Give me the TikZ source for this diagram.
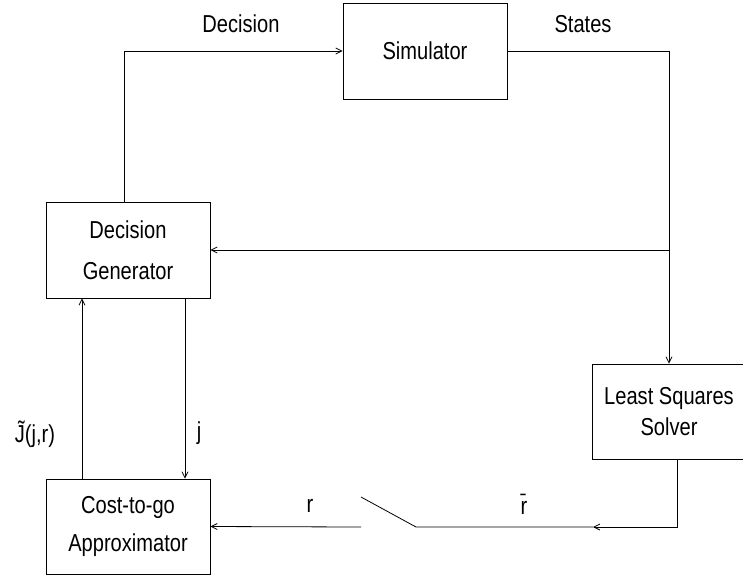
\documentclass[tikz,border=0pt]{standalone}
\usepackage{fontspec}
\setmainfont[FakeStretch=0.82]{Liberation Sans}
\usetikzlibrary{arrows.meta,calc}

\begin{document}
\begin{tikzpicture}[x=1pt,y=-1pt,line width=0.8pt,
  >={Straight Barb[length=6pt,width=6pt]},
  blk/.style={draw,inner sep=0pt,minimum width=164pt,minimum height=96pt,align=center},
  lbl/.style={inner sep=0pt,font=\fontsize{24.5}{28}\selectfont}]
\useasboundingbox (0,0) rectangle (743,582);
% boxes
\node[blk,font=\fontsize{24.5}{28}\selectfont] (sim) at (425,51) {Simulator};
\node[blk,font=\fontsize{24.5}{41}\selectfont] (dg) at (128,250) {Decision\\Generator};
\node[blk,minimum height=95pt,font=\fontsize{24.5}{38}\selectfont] (cost) at (128,526.5) {Cost-to-go\\Approximator};
\node[blk,minimum width=154pt,minimum height=95pt,font=\fontsize{24.5}{31}\selectfont] (lss) at (669,411.5) {Least Squares\\Solver};
% labels
\node[lbl] (ldec) at (241,24) {Decision};
\node[lbl] (lsta) at (583,24) {States};
\node[lbl] (lj) at (199,433) {j};
\node[lbl] (lJ) at (35,434) {\~{J}(j,r)};
\node[lbl] (lr) at (310,506) {r};
\node[lbl] (lrb) at (524,504) {\={r}};
% connectors
\draw[->] ([xshift=-4pt]dg.north) |- (sim.west);
\draw[->] (sim.east) -| (lss.north);
\coordinate (br) at (lss.north |- dg.east);
\draw[->] (br) -- (dg.east);
\draw[->] ([xshift=57pt]dg.south) -- ([xshift=57pt]cost.north);
\draw[->] ([xshift=-46pt]cost.north) -- ([xshift=-46pt]dg.south);
% switch
\coordinate (tipR) at (593,527);
\coordinate (swR) at (416,527);
\coordinate (swL) at (361,497);
\coordinate (swA) at (361,527);
\draw[->] ([xshift=8pt]lss.south) |- (tipR);
\draw (tipR) -- (swR) -- (swL);
\draw[->] (swA) -- (cost.east);
\end{tikzpicture}
\end{document}
